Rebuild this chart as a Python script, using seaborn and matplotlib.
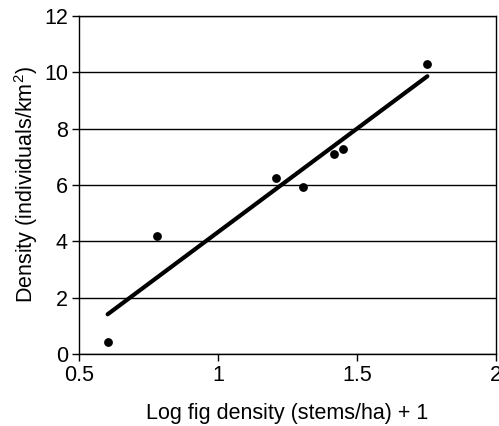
import matplotlib
matplotlib.use("Agg")
import matplotlib.pyplot as plt
import seaborn as sns
import pandas as pd

log_fig_density = [0.603, 0.782, 1.209, 1.307, 1.417, 1.449, 1.753]
density = [0.43, 4.18, 6.25, 5.92, 7.10, 7.29, 10.29]
x_ticks = [0.5, 1, 1.5, 2]
x_tick_labels = ["0.5", "1", "1.5", "2"]
y_ticks = [0, 2, 4, 6, 8, 10, 12]

sns.set_theme(style="white")
plt.rcParams["font.family"] = ["Liberation Sans", "DejaVu Sans"]
plt.rcParams["mathtext.default"] = "regular"

df = pd.DataFrame({"x": log_fig_density, "y": density})

fig = plt.figure(figsize=(4.99, 4.26), dpi=100)
ax = fig.add_axes([79 / 499, 1 - 354 / 426, (496 - 79) / 499, (354 - 16) / 426])

sns.regplot(data=df, x="x", y="y", ax=ax, ci=None, truncate=True,
            scatter_kws={"s": 40, "color": "black", "alpha": 1, "linewidths": 0, "zorder": 4},
            line_kws={"color": "black", "lw": 3, "zorder": 3})

ax.set_xlim(0.5, 2)
ax.set_ylim(0, 12)
ax.set_xticks(x_ticks)
ax.set_xticklabels(x_tick_labels)
ax.set_yticks(y_ticks)
ax.yaxis.grid(True, color="black", lw=1)
ax.xaxis.grid(False)
ax.set_axisbelow(True)
for s in ax.spines.values():
    s.set_color("black")
    s.set_linewidth(1)
ax.tick_params(axis="both", direction="out", length=5, width=1, color="black",
               labelsize=15.5, labelcolor="black", pad=3)
ax.tick_params(axis="x", bottom=True)
ax.tick_params(axis="y", left=True)
ax.set_xlabel("Log fig density (stems/ha) + 1", fontsize=15.5, color="black", labelpad=12)
ax.set_ylabel("Density (individuals/km$^2$)", fontsize=15.5, color="black", labelpad=3)

fig.savefig("out.png", dpi=100)
